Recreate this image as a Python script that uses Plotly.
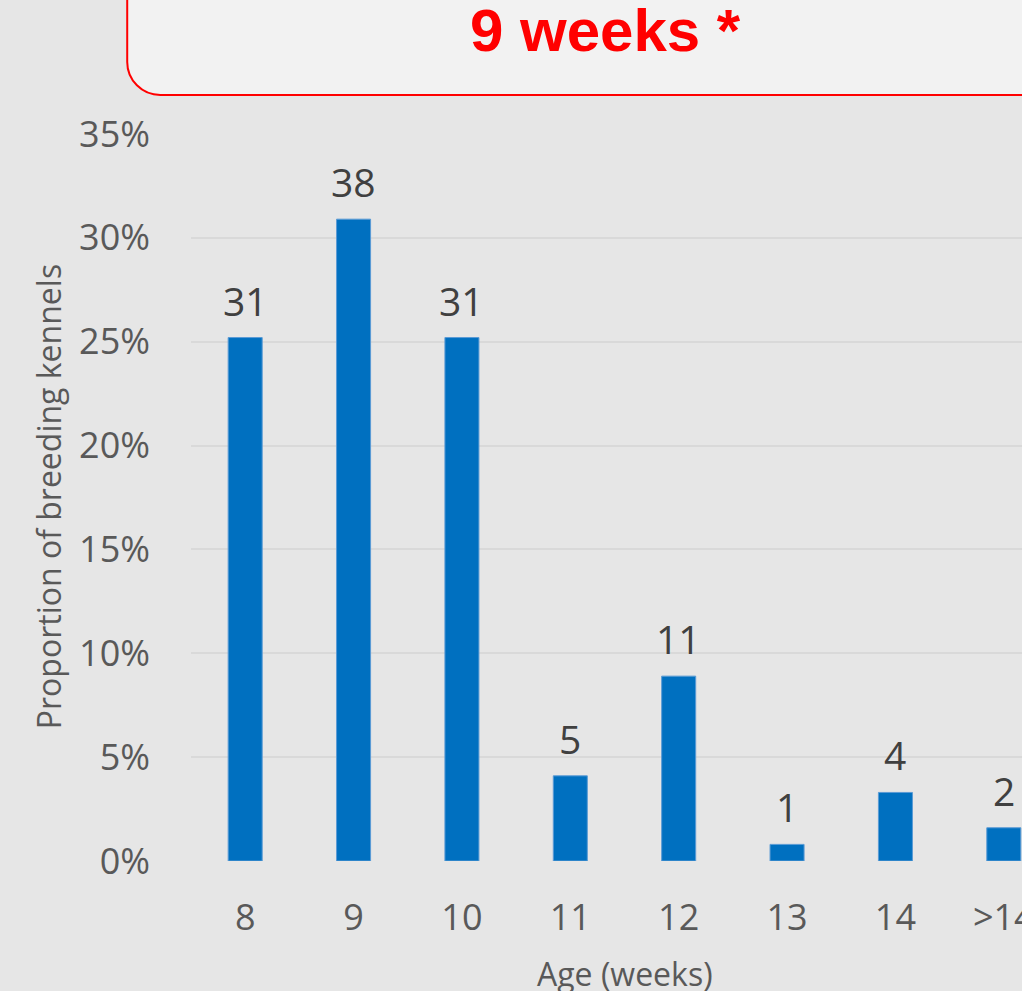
import plotly.graph_objects as go

categories = ["8", "9", "10", "11", "12", "13", "14", ">14"]
proportions = [25.2, 30.9, 25.2, 4.1, 8.9, 0.8, 3.3, 1.6]
counts = [31, 38, 31, 5, 11, 1, 4, 2]
y_ticks = [0, 5, 10, 15, 20, 25, 30, 35]
y_tick_labels = ["0%", "5%", "10%", "15%", "20%", "25%", "30%", "35%"]
headline = "9 weeks *"

W, H = 1022, 991
L, R, T, B = 190.8, 0, 134, 130
pw, ph = W - L - R, H - T - B

def px_x(x):
    return (x - L) / pw

def px_y(y):
    return (H - B - y) / ph

BG = "#e6e6e6"
FONT = "Open Sans"

fig = go.Figure()
fig.add_trace(go.Bar(
    x=list(range(len(categories))),
    y=proportions,
    width=0.314,
    marker=dict(color="#0070c0", line=dict(color="#5b9bd5", width=1)),
    hoverinfo="skip",
))

for i, (v, c) in enumerate(zip(proportions, counts)):
    fig.add_annotation(x=i, y=v, text=str(c), showarrow=False,
                       xref="x", yref="y", yanchor="bottom", yshift=9,
                       font=dict(family=FONT, size=39, color="#404040"))

# headline box
x0 = px_x(127)
xr = px_x(1045)
yb = px_y(95)
yt = px_y(-20)
rx = 33 / pw
ry = 33 / ph
path = (f"M {x0},{yt} L {x0},{yb + ry} "
        f"C {x0},{yb + ry * 0.45} {x0 + rx * 0.45},{yb} {x0 + rx},{yb} "
        f"L {xr},{yb} L {xr},{yt} Z")
fig.add_shape(type="path", path=path, xref="paper", yref="paper",
              fillcolor="#f2f2f2", line=dict(color="#ff0000", width=2), layer="above")
fig.add_annotation(x=px_x(605), y=px_y(31), xref="paper", yref="paper",
                   text=f"<b>{headline}</b>", showarrow=False,
                   xanchor="center", yanchor="middle",
                   font=dict(family="Liberation Sans", size=60, color="#ff0000"))

# axis titles
fig.add_annotation(x=px_x(48), y=px_y(497), xref="paper", yref="paper",
                   text="Proportion of breeding kennels", textangle=-90,
                   showarrow=False, xanchor="center", yanchor="middle",
                   font=dict(family=FONT, size=32, color="#595959"))
fig.add_annotation(x=px_x(625), y=px_y(974), xref="paper", yref="paper",
                   text="Age (weeks)", showarrow=False,
                   xanchor="center", yanchor="middle",
                   font=dict(family=FONT, size=32, color="#595959"))

fig.update_layout(
    width=W, height=H, autosize=False,
    margin=dict(l=L, r=R, t=T, b=B, pad=0),
    paper_bgcolor=BG, plot_bgcolor=BG,
    showlegend=False,
    xaxis=dict(
        tickmode="array", tickvals=list(range(len(categories))), ticktext=categories,
        range=[-0.5, -0.5 + pw / 108.4], automargin=False,
        showgrid=False, zeroline=False, showline=False,
        ticks="", ticklabelstandoff=32, ticklabeloverflow="allow",
        tickfont=dict(family=FONT, size=36, color="#595959"),
        fixedrange=True,
    ),
    yaxis=dict(
        range=[0, 35], tickmode="array", tickvals=y_ticks, ticktext=y_tick_labels,
        automargin=False,
        showgrid=True, gridcolor="#d9d9d9", gridwidth=2,
        zeroline=False, showline=False,
        ticks="", ticklabelstandoff=40,
        tickfont=dict(family=FONT, size=36, color="#595959"),
        fixedrange=True,
    ),
)

fig.write_html(
    "out.html",
    config={"responsive": False, "displayModeBar": False},
    post_script="document.body.style.margin='0';document.body.style.padding='0';"
                "document.body.style.overflow='hidden';",
)
